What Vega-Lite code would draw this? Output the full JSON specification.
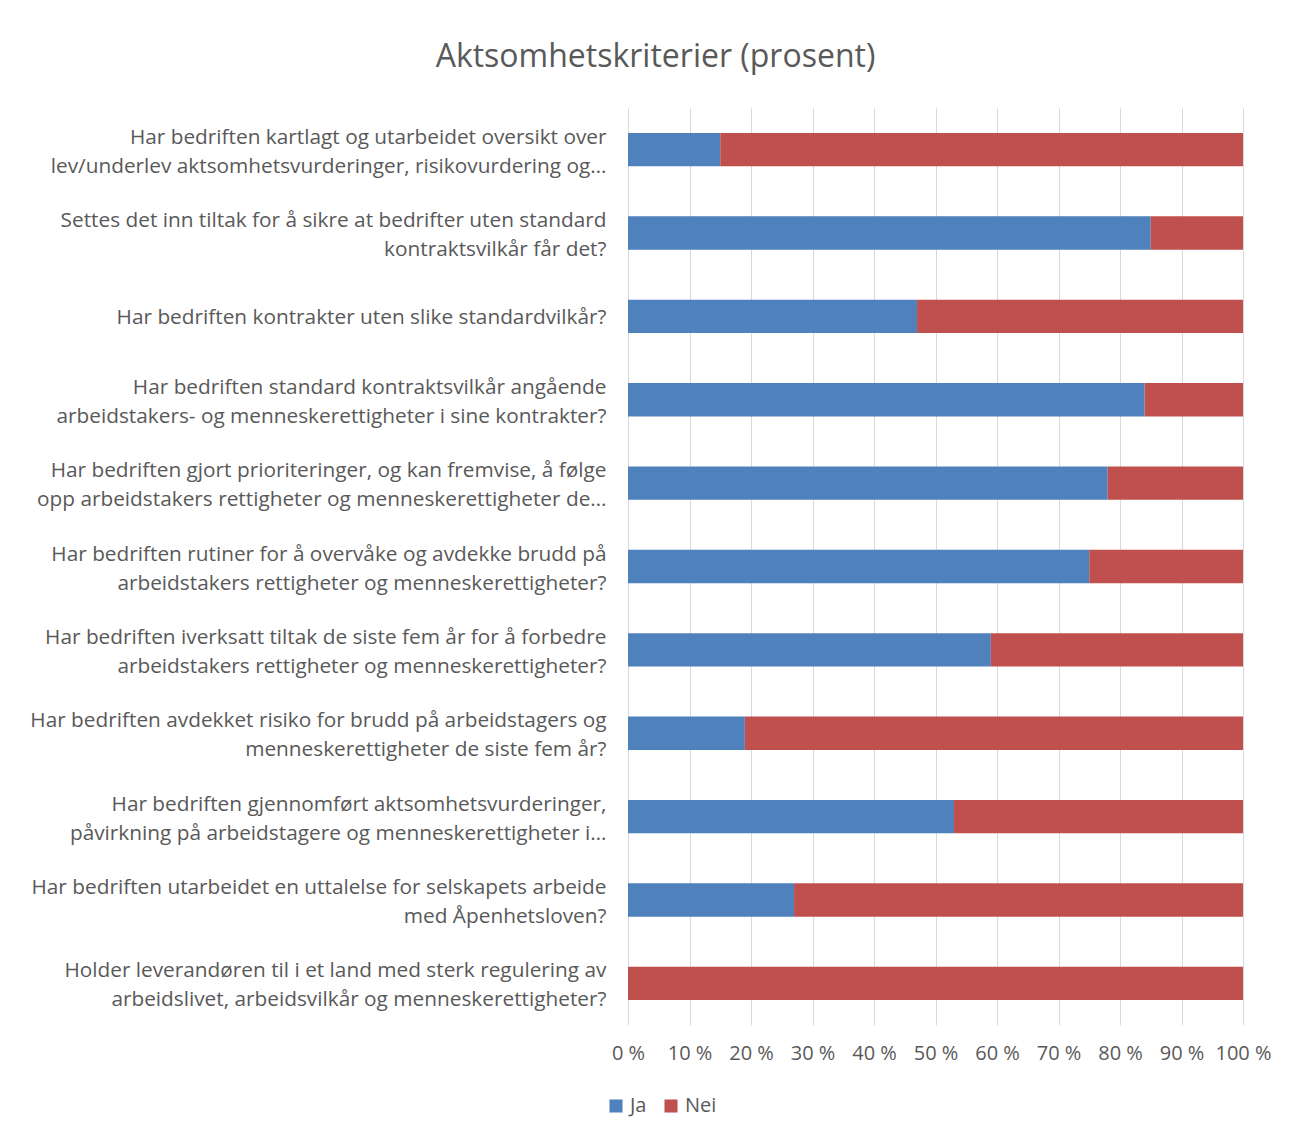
{
  "$schema": "https://vega.github.io/schema/vega-lite/v6.json",
  "width": 615,
  "height": 917,
  "autosize": {"type": "none"},
  "padding": {"left": 628, "top": 108, "right": 66, "bottom": 112},
  "background": "white",
  "title": {
    "text": "Aktsomhetskriterier (prosent)",
    "anchor": "middle",
    "dx": -280,
    "offset": 34,
    "font": "Open Sans",
    "fontSize": 32,
    "fontWeight": "normal",
    "color": "#595959"
  },
  "data": {
    "values": [
      {"question": "Har bedriften kartlagt og utarbeidet oversikt over|lev/underlev aktsomhetsvurderinger, risikovurdering og…", "answer": "Ja", "value": 15},
      {"question": "Har bedriften kartlagt og utarbeidet oversikt over|lev/underlev aktsomhetsvurderinger, risikovurdering og…", "answer": "Nei", "value": 85},
      {"question": "Settes det inn tiltak for å sikre at bedrifter uten standard|kontraktsvilkår får det?", "answer": "Ja", "value": 85},
      {"question": "Settes det inn tiltak for å sikre at bedrifter uten standard|kontraktsvilkår får det?", "answer": "Nei", "value": 15},
      {"question": "Har bedriften kontrakter uten slike standardvilkår?", "answer": "Ja", "value": 47},
      {"question": "Har bedriften kontrakter uten slike standardvilkår?", "answer": "Nei", "value": 53},
      {"question": "Har bedriften standard kontraktsvilkår angående|arbeidstakers- og menneskerettigheter i sine kontrakter?", "answer": "Ja", "value": 84},
      {"question": "Har bedriften standard kontraktsvilkår angående|arbeidstakers- og menneskerettigheter i sine kontrakter?", "answer": "Nei", "value": 16},
      {"question": "Har bedriften gjort prioriteringer, og kan fremvise, å  følge|opp arbeidstakers rettigheter og menneskerettigheter de…", "answer": "Ja", "value": 78},
      {"question": "Har bedriften gjort prioriteringer, og kan fremvise, å  følge|opp arbeidstakers rettigheter og menneskerettigheter de…", "answer": "Nei", "value": 22},
      {"question": "Har bedriften rutiner for å  overvåke og avdekke brudd på|arbeidstakers rettigheter og menneskerettigheter?", "answer": "Ja", "value": 75},
      {"question": "Har bedriften rutiner for å  overvåke og avdekke brudd på|arbeidstakers rettigheter og menneskerettigheter?", "answer": "Nei", "value": 25},
      {"question": "Har bedriften iverksatt tiltak de siste fem år for å forbedre|arbeidstakers rettigheter og menneskerettigheter?", "answer": "Ja", "value": 59},
      {"question": "Har bedriften iverksatt tiltak de siste fem år for å forbedre|arbeidstakers rettigheter og menneskerettigheter?", "answer": "Nei", "value": 41},
      {"question": "Har bedriften avdekket risiko for brudd på arbeidstagers og|menneskerettigheter de siste fem år?", "answer": "Ja", "value": 19},
      {"question": "Har bedriften avdekket risiko for brudd på arbeidstagers og|menneskerettigheter de siste fem år?", "answer": "Nei", "value": 81},
      {"question": "Har bedriften gjennomført aktsomhetsvurderinger,|påvirkning på arbeidstagere og menneskerettigheter i…", "answer": "Ja", "value": 53},
      {"question": "Har bedriften gjennomført aktsomhetsvurderinger,|påvirkning på arbeidstagere og menneskerettigheter i…", "answer": "Nei", "value": 47},
      {"question": "Har bedriften utarbeidet en uttalelse for selskapets arbeide|med Åpenhetsloven?", "answer": "Ja", "value": 27},
      {"question": "Har bedriften utarbeidet en uttalelse for selskapets arbeide|med Åpenhetsloven?", "answer": "Nei", "value": 73},
      {"question": "Holder leverandøren til i et land med sterk regulering av|arbeidslivet, arbeidsvilkår og menneskerettigheter?", "answer": "Ja", "value": 0},
      {"question": "Holder leverandøren til i et land med sterk regulering av|arbeidslivet, arbeidsvilkår og menneskerettigheter?", "answer": "Nei", "value": 100}
    ]
  },
  "mark": {"type": "bar"},
  "encoding": {
    "y": {
      "field": "question",
      "type": "nominal",
      "sort": null,
      "title": null,
      "scale": {"paddingInner": 0.6, "paddingOuter": 0.3},
      "axis": {
        "labelExpr": "split(datum.label, '|')",
        "labelFont": "Open Sans",
        "labelFontSize": 20.8,
        "labelColor": "#595959",
        "labelLineHeight": 29,
        "labelLimit": 0,
        "labelPadding": 22,
        "labelOffset": {"condition": {"test": "indexof(datum.value, '|') >= 0", "value": -12}, "value": 2},
        "domain": false,
        "ticks": false,
        "grid": false
      }
    },
    "x": {
      "field": "value",
      "type": "quantitative",
      "stack": "normalize",
      "title": null,
      "scale": {"domain": [0, 1]},
      "axis": {
        "values": [0, 0.1, 0.2, 0.3, 0.4, 0.5, 0.6, 0.7, 0.8, 0.9, 1],
        "labelExpr": "format(datum.value * 100, '.0f') + ' %'",
        "labelFont": "Open Sans",
        "labelFontSize": 20,
        "labelColor": "#595959",
        "labelPadding": 18,
        "labelOverlap": false,
        "labelFlush": false,
        "domain": false,
        "ticks": false,
        "grid": true,
        "gridColor": "#d9d9d9",
        "gridWidth": 1
      }
    },
    "color": {
      "field": "answer",
      "type": "nominal",
      "title": null,
      "scale": {"domain": ["Ja", "Nei"], "range": ["#4F81BD", "#C0504D"]},
      "legend": {
        "orient": "none",
        "direction": "horizontal",
        "legendX": -22,
        "legendY": 988,
        "symbolType": "square",
        "symbolSize": 170,
        "symbolStrokeWidth": 0,
        "labelFont": "Open Sans",
        "labelFontSize": 20,
        "labelColor": "#595959",
        "columnPadding": 14,
        "labelOffset": 4
      }
    }
  },
  "config": {"view": {"stroke": null}}
}
